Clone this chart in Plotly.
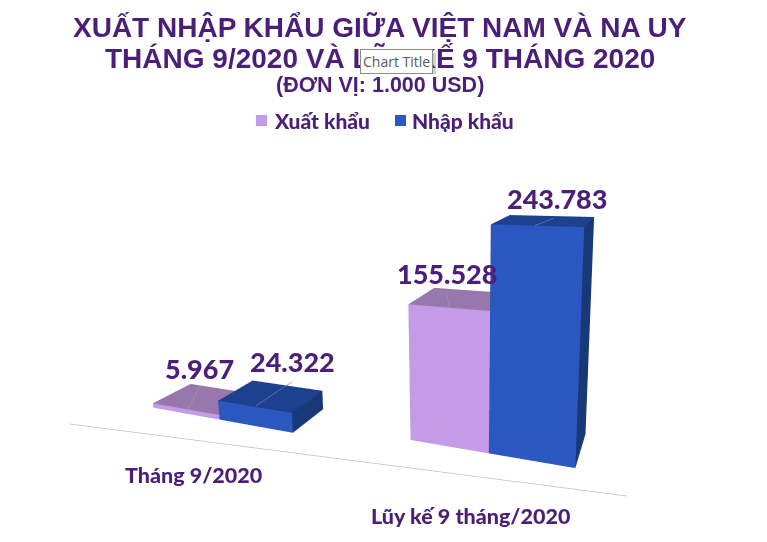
import plotly.graph_objects as go

categories = ["Tháng 9/2020", "Lũy kế 9 tháng/2020"]
series_names = ["Xuất khẩu", "Nhập khẩu"]
export_values = [5967, 155528]
import_values = [24322, 243783]
value_labels = [["5.967", "155.528"], ["24.322", "243.783"]]

W, H = 767, 542
PURPLE = '#4B1F78'

# scene geometry: bar footprints, in axis units (width, depth, group offset)
DEPTH_A, DEPTH_B = 0.6979, 0.8071
GROUP_X, GROUP_Y, BAR_W_B = 3.2900, 0.2984, 0.8591
FOOT = [[(0, 1, 0, DEPTH_A), (GROUP_X, GROUP_X + BAR_W_B, GROUP_Y, GROUP_Y + DEPTH_B)],
        [(1, 2, 0, DEPTH_A), (GROUP_X + BAR_W_B, GROUP_X + 2 * BAR_W_B, GROUP_Y, GROUP_Y + DEPTH_B)]]
Z_PER_UNIT = 9.6799e-06
RX, RY, RZ = (-1.087, 6.002), (-1.667, 1.606), (-0.5, 3.083)
SCALE = 0.2
mid = ((RX[0] + RX[1]) / 2, (RY[0] + RY[1]) / 2, (RZ[0] + RZ[1]) / 2)
EYE = (5.71, -5.8, 3.162)
LOOK = (3.1495, 0.0, 1.9049)
UP = dict(x=-0.5537, y=1.3278, z=1)

COLORS = [dict(f='#C39BE6', s='#9878AC', t='#9878AC', b='#9878AC'),
          dict(f='#2A58C0', s='#193878', t='#1D418F', b='#193878')]
FACES = [(0, 1, 5, 'f'), (0, 5, 4, 'f'), (1, 2, 6, 's'), (1, 6, 5, 's'), (4, 5, 6, 't'), (4, 6, 7, 't'),
         (0, 3, 2, 'b'), (0, 2, 1, 'b'), (3, 7, 6, 'b'), (3, 6, 2, 'b'), (0, 4, 7, 'b'), (0, 7, 3, 'b')]

# offsets of value labels from the top centre of their bar, and leader lines on the top faces
LABEL_DX = [[-0.321, -0.142], [0.095, 0.119]]
LABEL_DZ = [[0.244, 0.259], [0.316, 0.223]]
LABEL_Y = 0.698
LEADERS = [[[(0.58, -0.065), (0.193, 0.651)], [(3.72, 0.324), (3.483, 0.948)]],
           [[(1.51, 0.025), (1.498, 0.826)], [(4.57, 0.30), (4.64, 0.92)]]]
CAT_POS = [(1.585, -1.167), (4.29, -0.873)]
AXIS_LINE = [(-0.587, -0.728), (5.502, -0.056)]

fig = go.Figure()
for si, vals in enumerate([export_values, import_values]):
    vx, vy, vz, I, J, K, fc = [], [], [], [], [], [], []
    for ci, v in enumerate(vals):
        x0, x1, y0, y1 = FOOT[si][ci]
        off = len(vx)
        vx += [x0, x1, x1, x0, x0, x1, x1, x0]
        vy += [y0, y0, y1, y1, y0, y0, y1, y1]
        vz += [0, 0, 0, 0, v, v, v, v]
        for a, b, c, kind in FACES:
            I.append(a + off); J.append(b + off); K.append(c + off)
            fc.append(COLORS[si][kind])
    fig.add_trace(go.Mesh3d(x=vx, y=vy, z=vz, i=I, j=J, k=K, facecolor=fc, flatshading=True, name=series_names[si],
                            lighting=dict(ambient=1, diffuse=0, specular=0, roughness=1, fresnel=0),
                            hoverinfo='skip', showlegend=False, showscale=False))

scene_ann = []
for si, vals in enumerate([export_values, import_values]):
    for ci, v in enumerate(vals):
        (ax, ay), (bx, by) = LEADERS[si][ci]
        fig.add_trace(go.Scatter3d(x=[ax, bx], y=[ay, by], z=[v, v], mode='lines',
                                   line=dict(color='#A6A6A6', width=1.5), showlegend=False, hoverinfo='skip'))
        x0, x1, _, _ = FOOT[si][ci]
        scene_ann.append(dict(x=(x0 + x1) / 2 + LABEL_DX[si][ci], y=LABEL_Y,
                              z=v + LABEL_DZ[si][ci] / Z_PER_UNIT, text=value_labels[si][ci], showarrow=False,
                              font=dict(family='Lato', size=27, color=PURPLE, weight=900)))
fig.add_trace(go.Scatter3d(x=[AXIS_LINE[0][0], AXIS_LINE[1][0]], y=[AXIS_LINE[0][1], AXIS_LINE[1][1]], z=[0, 0],
                           mode='lines', line=dict(color='#BFBFBF', width=1.5), showlegend=False, hoverinfo='skip'))
for name, (cx, cy) in zip(categories, CAT_POS):
    scene_ann.append(dict(x=cx, y=cy, z=0, text=name, showarrow=False,
                          font=dict(family='Lato', size=21.5, color=PURPLE, weight=900)))

hidden = dict(visible=False, showgrid=False, zeroline=False, showbackground=False, autorange=False)
to_scene = lambda q: dict(x=(q[0] - mid[0]) * SCALE, y=(q[1] - mid[1]) * SCALE, z=(q[2] - mid[2]) * SCALE)
TA = dict(xref='paper', yref='paper', showarrow=False, xanchor='center', yanchor='middle')
LEG = dict(xref='paper', yref='paper', showarrow=False, xanchor='left', yanchor='middle',
           font=dict(family='Lato', size=21, color=PURPLE, weight=900))
TITLE = dict(family='Liberation Sans', size=28, color=PURPLE, weight=700)
rect = lambda l, t, r, b, col: dict(type='rect', xref='paper', yref='paper', x0=l / W, x1=r / W, y0=1 - b / H,
                                    y1=1 - t / H, fillcolor=col, line_width=0, layer='above')
fig.update_layout(
    width=W, height=H, margin=dict(l=0, r=0, t=0, b=0), paper_bgcolor='white', autosize=False, showlegend=False,
    scene=dict(domain=dict(x=[0, 1], y=[0, 1]),
               xaxis={**hidden, 'range': list(RX)}, yaxis={**hidden, 'range': list(RY)},
               zaxis={**hidden, 'range': [RZ[0] / Z_PER_UNIT, RZ[1] / Z_PER_UNIT]},
               aspectmode='manual',
               aspectratio=dict(x=(RX[1] - RX[0]) * SCALE, y=(RY[1] - RY[0]) * SCALE, z=(RZ[1] - RZ[0]) * SCALE),
               camera=dict(eye=to_scene(EYE), center=to_scene(LOOK), up=UP, projection=dict(type='perspective')),
               annotations=scene_ann),
    shapes=[rect(256, 115, 267, 126, COLORS[0]['f']), rect(395, 115, 406, 126, COLORS[1]['f']),
            rect(360, 53, 436, 74, '#D0D0D0')],
    annotations=[
        dict(x=380 / W, y=1 - 28 / H, text='XUẤT NHẬP KHẨU GIỮA VIỆT NAM VÀ NA UY', font=TITLE, **TA),
        dict(x=380 / W, y=1 - 58 / H, text='THÁNG 9/2020 VÀ LŨY KẾ 9 THÁNG 2020', font=TITLE, **TA),
        dict(x=380 / W, y=1 - 85 / H, text='(ĐƠN VỊ: 1.000 USD)',
             font=dict(family='Liberation Sans', size=21.5, color=PURPLE, weight=700), **TA),
        dict(x=396 / W, y=1 - 61 / H, text='Chart Title', bgcolor='white', bordercolor='#8C8C8C', borderwidth=1,
             borderpad=2, font=dict(family='Open Sans', size=14, color='#595959'), **TA),
        dict(x=272 / W, y=1 - 121 / H, text=series_names[0], **LEG),
        dict(x=410 / W, y=1 - 121 / H, text=series_names[1], **LEG),
    ],
)
fig.write_html("out.html", config=dict(displayModeBar=False),
               post_script="document.body.style.margin='0';document.body.style.overflow='hidden';")
